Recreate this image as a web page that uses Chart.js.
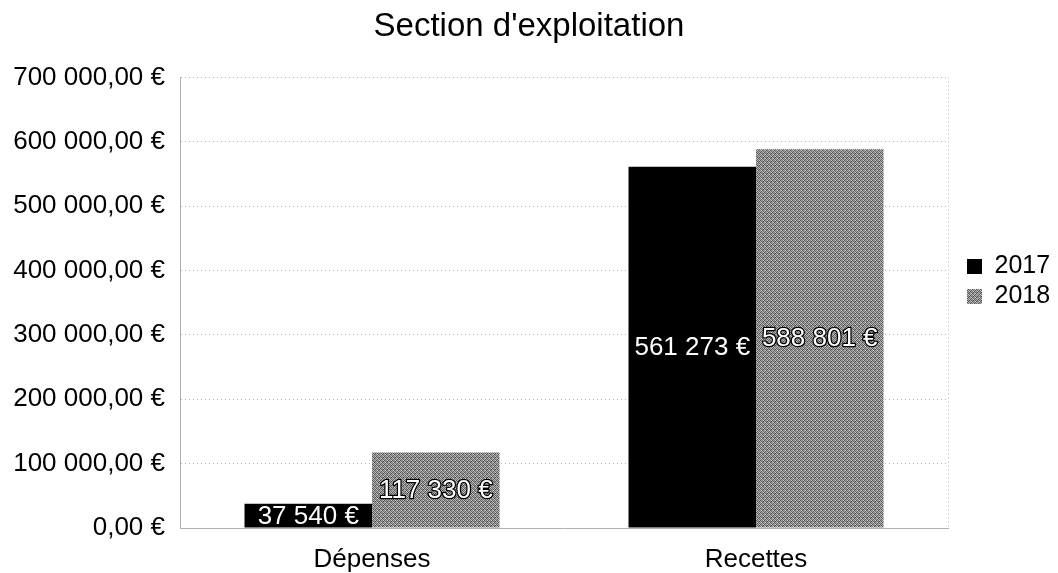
<!DOCTYPE html>
<html>
<head>
<meta charset="utf-8">
<script src="https://cdn.jsdelivr.net/npm/chart.js@4"></script>
<style>
html,body{margin:0;padding:0;background:#fff;}
#wrap{width:1058px;height:573px;}
</style>
</head>
<body>
<div id="wrap"><canvas id="c" width="1058" height="573"></canvas></div>
<script>
const categories = ['Dépenses', 'Recettes'];
const seriesNames = ['2017', '2018'];
const values2017 = [37540, 561273];
const values2018 = [117330, 588801];
const yMin = 0;
const yMax = 700000;
const yStep = 100000;
const titleText = "Section d'exploitation";

const FONT = "'Liberation Sans', Arial, sans-serif";

function makeGrayPattern() {
  const p = document.createElement('canvas');
  p.width = 4; p.height = 4;
  const g = p.getContext('2d');
  const cols = ['#5a5a5a','#a4a4a4','#767676','#c4c4c4',
                '#b0b0b0','#666666','#969696','#4c4c4c',
                '#848484','#cccccc','#545454','#9c9c9c',
                '#a6a6a6','#5e5e5e','#b8b8b8','#707070'];
  for (let i = 0; i < 16; i++) {
    g.fillStyle = cols[i];
    g.fillRect(i % 4, Math.floor(i / 4), 1, 1);
  }
  return g.createPattern(p, 'repeat');
}
const ctx = document.getElementById('c').getContext('2d');
const grayPattern = makeGrayPattern();

function fmtEuro(v, dec) {
  const s = Math.abs(v).toFixed(dec);
  const parts = s.split('.');
  const intPart = parts[0].replace(/\B(?=(\d{3})+(?!\d))/g, ' ');
  return intPart + (dec > 0 ? ',' + parts[1] : '') + ' €';
}

const labelPlugin = {
  id: 'barLabels',
  afterDatasetsDraw(chart) {
    const c = chart.ctx;
    c.save();
    c.font = '26px ' + FONT;
    c.textAlign = 'center';
    c.textBaseline = 'middle';
    chart.data.datasets.forEach((ds, di) => {
      const meta = chart.getDatasetMeta(di);
      meta.data.forEach((bar, i) => {
        const txt = fmtEuro(ds.data[i], 0);
        const y = (bar.y + bar.base) / 2;
        if (di === 1) {
          c.lineWidth = 2.5;
          c.strokeStyle = '#000';
          c.lineJoin = 'round';
          c.strokeText(txt, bar.x, y + 1);
        }
        c.fillStyle = '#fff';
        c.fillText(txt, bar.x, y + 1);
      });
    });
    c.restore();
  }
};

const borderPlugin = {
  id: 'sideBorders',
  afterDraw(chart) {
    const a = chart.chartArea;
    const c = chart.ctx;
    c.save();
    c.strokeStyle = '#b0b0b0';
    c.lineWidth = 1;
    c.setLineDash([1, 3]);
    c.beginPath();
    c.moveTo(Math.round(a.right) + 0.5, a.top);
    c.lineTo(Math.round(a.right) + 0.5, a.bottom);
    c.stroke();
    c.restore();
  }
};

const chart = new Chart(ctx, {
  type: 'bar',
  data: {
    labels: categories,
    datasets: [
      { label: seriesNames[0], data: values2017, backgroundColor: '#000000', borderWidth: 0 },
      { label: seriesNames[1], data: values2018, backgroundColor: grayPattern, borderWidth: 0 }
    ]
  },
  options: {
    responsive: false,
    animation: false,
    devicePixelRatio: 1,
    layout: { padding: { left: 0, right: 0, top: 0, bottom: 0 } },
    datasets: { bar: { categoryPercentage: 0.664, barPercentage: 1.0 } },
    plugins: {
      title: {
        display: true,
        text: titleText,
        color: '#000',
        font: { family: FONT, size: 33, weight: 'normal' },
        padding: { top: 7, bottom: 31 }
      },
      legend: {
        position: 'right',
        align: 'center',
        labels: {
          color: '#000',
          font: { family: FONT, size: 25 },
          boxWidth: 15,
          boxHeight: 15,
          padding: 5
        }
      },
      tooltip: { enabled: false }
    },
    scales: {
      x: {
        grid: { display: false, drawTicks: false },
        border: { display: true, color: '#b0b0b0', dash: [1, 3] },
        ticks: { color: '#000', font: { family: FONT, size: 26 }, padding: 16 },
        afterFit: (s) => { s.height = 45; }
      },
      y: {
        min: yMin,
        max: yMax,
        ticks: {
          stepSize: yStep,
          color: '#000',
          font: { family: FONT, size: 26 },
          padding: 15,
          callback: (v) => fmtEuro(v, 2)
        },
        afterFit: (s) => { s.width = 180; },
        grid: { color: '#b0b0b0', drawTicks: false, tickLength: 0 },
        border: { display: true, color: '#b0b0b0', dash: [1, 3] }
      }
    }
  },
  plugins: [labelPlugin, borderPlugin]
});

// widen the legend column so the plot ends where the reference's does,
// and nudge the legend items to the reference's position
const lg = chart.legend;
const origFit = lg.fit.bind(lg);
lg.fit = function () { origFit(); this.width = 110; };
const origDraw = lg.draw.bind(lg);
lg.draw = function () {
  const c = this.ctx;
  c.save();
  c.translate(14, -5);
  origDraw();
  c.restore();
};
chart.update();
</script>
</body>
</html>
